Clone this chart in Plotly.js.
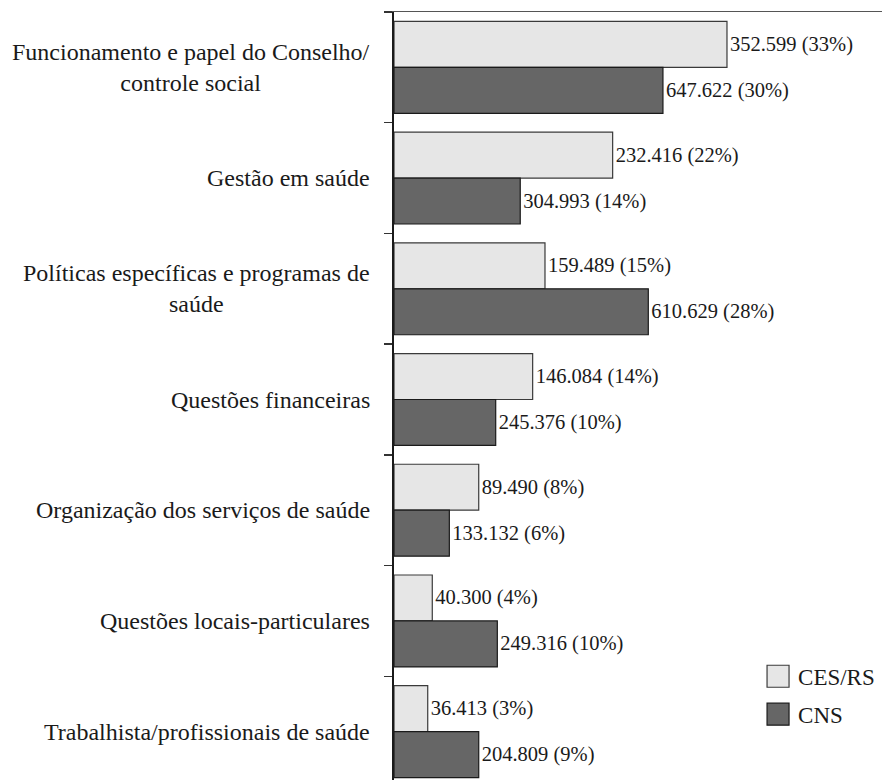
<!DOCTYPE html>
<html>
<head>
<meta charset="utf-8">
<script src="https://cdn.plot.ly/plotly-3.0.1.min.js"></script>
<style>
html,body{margin:0;padding:0;background:#fff;overflow:hidden;}
#chart{width:883px;height:800px;}
</style>
</head>
<body>
<div id="chart"></div>
<script>
// Categories (top to bottom)
const categories = [
  "Funcionamento e papel do Conselho/<br>controle social",
  "Gestão em saúde",
  "Políticas específicas e programas de<br>saúde",
  "Questões financeiras",
  "Organização dos serviços de saúde",
  "Questões locais-particulares",
  "Trabalhista/profissionais de saúde"
];
// Bar lengths (share, %)
const cesShare = [32.97, 21.65, 14.95, 13.73, 8.39, 3.79, 3.34];
const cnsShare = [26.63, 12.50, 25.18, 10.07, 5.48, 10.23, 8.39];
// Value labels
const cesLabels = ["352.599 (33%)", "232.416 (22%)", "159.489 (15%)", "146.084 (14%)", "89.490 (8%)", "40.300 (4%)", "36.413 (3%)"];
const cnsLabels = ["647.622 (30%)", "304.993 (14%)", "610.629 (28%)", "245.376 (10%)", "133.132 (6%)", "249.316 (10%)", "204.809 (9%)"];
const seriesNames = ["CES/RS", "CNS"];

const FONT = "Liberation Serif";

const traces = [
  {
    type: "bar", orientation: "h", name: seriesNames[0], legendgroup: "a",
    y: categories, x: cesShare, text: cesLabels,
    textposition: "outside", cliponaxis: false,
    textfont: {family: FONT, size: 20.5, color: "#1a1a1a"},
    marker: {color: "#e6e6e6", line: {color: "#3a3a3a", width: 1.2}},
    hoverinfo: "none"
  },
  {
    type: "bar", orientation: "h", name: seriesNames[1], legendgroup: "b",
    y: categories, x: cnsShare, text: cnsLabels,
    textposition: "outside", cliponaxis: false,
    textfont: {family: FONT, size: 20.5, color: "#1a1a1a"},
    marker: {color: "#666666", line: {color: "#1a1a1a", width: 1.2}},
    hoverinfo: "none"
  }
];

const annotations = categories.map(c => ({
  x: 0, xref: "paper", xanchor: "right", xshift: -22,
  y: c, yref: "y", yanchor: "middle",
  text: c, showarrow: false, align: "center",
  font: {family: FONT, size: 24, color: "#1a1a1a"}
}));

const layout = {
  width: 883, height: 800,
  margin: {l: 394, r: 1, t: 12, b: 13},
  paper_bgcolor: "#fff", plot_bgcolor: "#fff",
  barmode: "group", bargap: 0.17, bargroupgap: 0,
  font: {family: FONT, size: 20, color: "#1a1a1a"},
  xaxis: {
    range: [0, 48.32], side: "top", showline: true, linecolor: "#555", linewidth: 1.5,
    showgrid: false, zeroline: false, showticklabels: false, ticks: ""
  },
  yaxis: {
    autorange: "reversed", showline: true, linecolor: "#1a1a1a", linewidth: 2,
    ticks: "outside", ticklen: 8, tickwidth: 1.5, tickcolor: "#333",
    tickson: "boundaries", showticklabels: false, showgrid: false, zeroline: false
  },
  showlegend: true,
  legend: {
    x: 0.746, xanchor: "left", y: 0.1706, yanchor: "top",
    font: {family: FONT, size: 23, color: "#1a1a1a"},
    bgcolor: "rgba(0,0,0,0)", traceorder: "grouped", tracegroupgap: 5, itemclick: false
  },
  annotations: annotations
};

Plotly.newPlot("chart", traces, layout, {staticPlot: true, displayModeBar: false}).then(gd => {
  gd.querySelectorAll(".legend .legendpoints path").forEach(p => {
    p.setAttribute("d", "M11,11H-11V-11H11Z");
  });
});
</script>
</body>
</html>
